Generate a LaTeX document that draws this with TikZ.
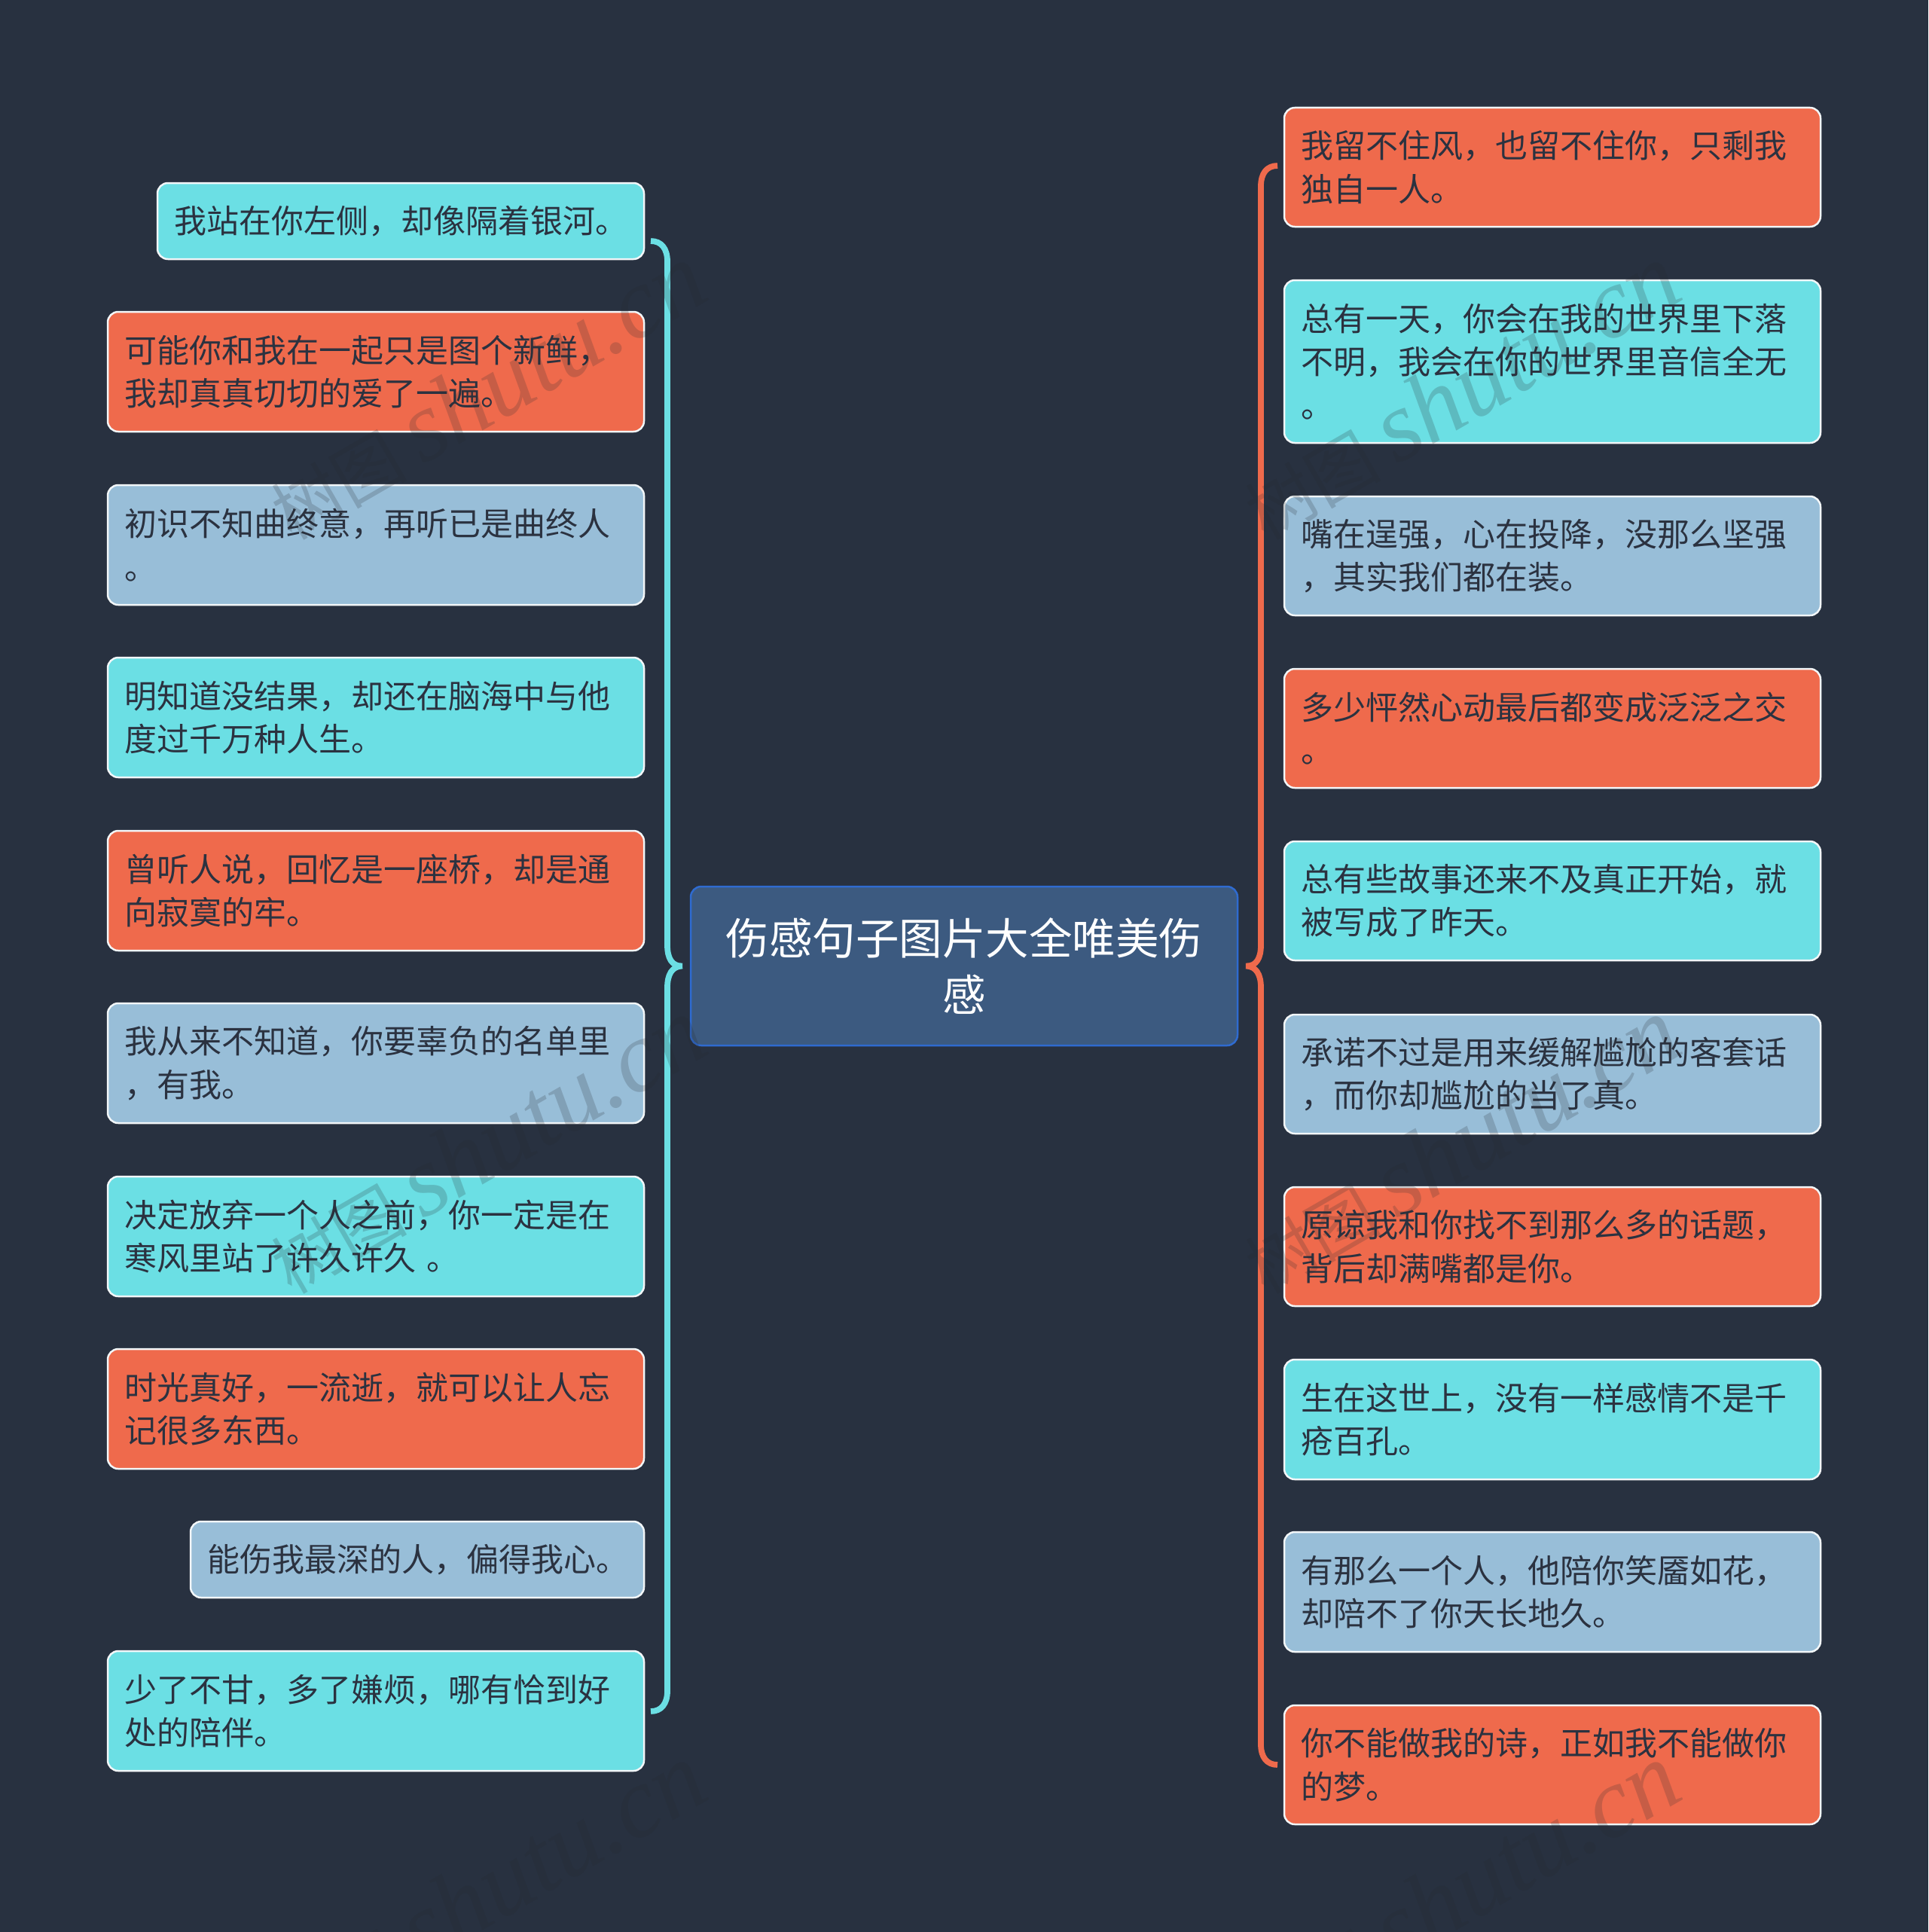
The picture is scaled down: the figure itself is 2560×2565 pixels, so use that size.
\documentclass[tikz,border=0pt]{standalone}
\usepackage{fontspec}
\setmainfont{Noto Sans CJK SC}
\newfontfamily\wmlatin{Liberation Serif}
\definecolor{bgc}{HTML}{283140}
\definecolor{tealc}{HTML}{6BDFE4}
\definecolor{orangec}{HTML}{EF6A4C}
\definecolor{bluec}{HTML}{98BED8}
\definecolor{rootc}{HTML}{3C5A80}
\definecolor{rootb}{HTML}{2F6BD0}
\definecolor{inkc}{HTML}{2B3240}
\definecolor{edgec}{HTML}{F2F6F8}
\definecolor{wmc}{HTML}{26292E}
\tikzset{
  basebox/.style={rectangle,rounded corners=5.6pt,draw=edgec,line width=1pt,inner sep=0pt,text=inkc,align=left,
    font=\fontsize{17.2pt}{23pt}\selectfont},
  tealbox/.style={basebox,fill=tealc},
  orangebox/.style={basebox,fill=orangec},
  bluebox/.style={basebox,fill=bluec},
  rootbox/.style={rectangle,rounded corners=5.6pt,draw=rootb,line width=1pt,fill=rootc,inner sep=0pt,text=white,align=center,
    font=\fontsize{23pt}{30pt}\selectfont},
  tealbrace/.style={draw=tealc,line width=3.1pt,line cap=butt,line join=bevel},
  orangebrace/.style={draw=orangec,line width=3.1pt,line cap=butt,line join=bevel},
  wmark/.style={text=wmc,opacity=.2,rotate=30,inner sep=0pt,font=\fontsize{36pt}{46pt}\selectfont}
}
% name, x1, y1, x2, y2, style, text
\newcommand{\mmbox}[7]{%
  \pgfmathsetmacro{\mmw}{(#4-#2)*0.4}%
  \pgfmathsetmacro{\mmh}{(#5-#3)*0.4}%
  \pgfmathsetmacro{\mmt}{(#4-#2-44)*0.4}%
  \node[#6,minimum width=\mmw pt,minimum height=\mmh pt,text width=\mmt pt] (#1) at ({(#2+#4)/2},{(#3+#5)/2}) {#7};%
}
\newcommand{\wmtext}[3]{\node[wmark] (#1) at (#2,#3) {树图 {\wmlatin\itshape\fontsize{53pt}{53pt}\selectfont shutu.cn}};}
\begin{document}
\begin{tikzpicture}[x=0.4pt,y=-0.4pt]
\useasboundingbox (0,0) rectangle (2560,2565);
\fill[bgc] (0,0) rectangle (2560,2565);

\node[rootbox,minimum width=290.4pt,minimum height=84.4pt,text width=276pt] (root) at (1280,1282.5) {伤感句子图片大全唯美伤\\感};

\mmbox{L1}{209}{243}{855}{344}{tealbox}{我站在你左侧，却像隔着银河。}
\mmbox{L2}{143}{414}{855}{573}{orangebox}{可能你和我在一起只是图个新鲜，\\我却真真切切的爱了一遍。}
\mmbox{L3}{143}{644}{855}{803}{bluebox}{初识不知曲终意，再听已是曲终人\\。}
\mmbox{L4}{143}{873}{855}{1032}{tealbox}{明知道没结果，却还在脑海中与他\\度过千万种人生。}
\mmbox{L5}{143}{1103}{855}{1262}{orangebox}{曾听人说，回忆是一座桥，却是通\\向寂寞的牢。}
\mmbox{L6}{143}{1332}{855}{1491}{bluebox}{我从来不知道，你要辜负的名单里\\，有我。}
\mmbox{L7}{143}{1562}{855}{1721}{tealbox}{决定放弃一个人之前，你一定是在\\寒风里站了许久许久 。}
\mmbox{L8}{143}{1791}{855}{1950}{orangebox}{时光真好，一流逝，就可以让人忘\\记很多东西。}
\mmbox{L9}{253}{2020}{855}{2121}{bluebox}{能伤我最深的人，偏得我心。}
\mmbox{L10}{143}{2192}{855}{2351}{tealbox}{少了不甘，多了嫌烦，哪有恰到好\\处的陪伴。}

\mmbox{R1}{1705}{143}{2417}{301}{orangebox}{我留不住风，也留不住你，只剩我\\独自一人。}
\mmbox{R2}{1705}{372}{2417}{588}{tealbox}{总有一天，你会在我的世界里下落\\不明，我会在你的世界里音信全无\\。}
\mmbox{R3}{1705}{659}{2417}{817}{bluebox}{嘴在逞强，心在投降，没那么坚强\\，其实我们都在装。}
\mmbox{R4}{1705}{888}{2417}{1046}{orangebox}{多少怦然心动最后都变成泛泛之交\\。}
\mmbox{R5}{1705}{1117}{2417}{1275}{tealbox}{总有些故事还来不及真正开始，就\\被写成了昨天。}
\mmbox{R6}{1705}{1347}{2417}{1505}{bluebox}{承诺不过是用来缓解尴尬的客套话\\，而你却尴尬的当了真。}
\mmbox{R7}{1705}{1576}{2417}{1734}{orangebox}{原谅我和你找不到那么多的话题，\\背后却满嘴都是你。}
\mmbox{R8}{1705}{1805}{2417}{1964}{tealbox}{生在这世上，没有一样感情不是千\\疮百孔。}
\mmbox{R9}{1705}{2034}{2417}{2193}{bluebox}{有那么一个人，他陪你笑靥如花，\\却陪不了你天长地久。}
\mmbox{R10}{1705}{2264}{2417}{2422}{orangebox}{你不能做我的诗，正如我不能做你\\的梦。}

\coordinate (ltip) at ([xshift=-4pt]root.west);
\coordinate (rtip) at ([xshift=4pt]root.east);
\coordinate (lstart) at (864,320);
\coordinate (lend) at (864,2272);
\coordinate (rstart) at (1696,220);
\coordinate (rend) at (1696,2343);

\draw[tealbrace] (lstart) .. controls (878,320) and (886,330) .. (886,347) -- (886,1255)
  .. controls (886,1272) and (892,1283) .. (ltip)
  .. controls (892,1283) and (886,1294) .. (886,1311) -- (886,2245)
  .. controls (886,2262) and (878,2272) .. (lend);
\draw[orangebrace] (rstart) .. controls (1682,220) and (1674,230) .. (1674,247) -- (1674,1255)
  .. controls (1674,1272) and (1668,1283) .. (rtip)
  .. controls (1668,1283) and (1674,1294) .. (1674,1311) -- (1674,2316)
  .. controls (1674,2333) and (1682,2343) .. (rend);

\wmtext{wa}{646}{520}
\wmtext{wb}{646}{1521}
\wmtext{wc}{646}{2511}
\wmtext{wd}{1939}{520}
\wmtext{we}{1939}{1521}
\wmtext{wf}{1939}{2511}
\end{tikzpicture}
\end{document}
